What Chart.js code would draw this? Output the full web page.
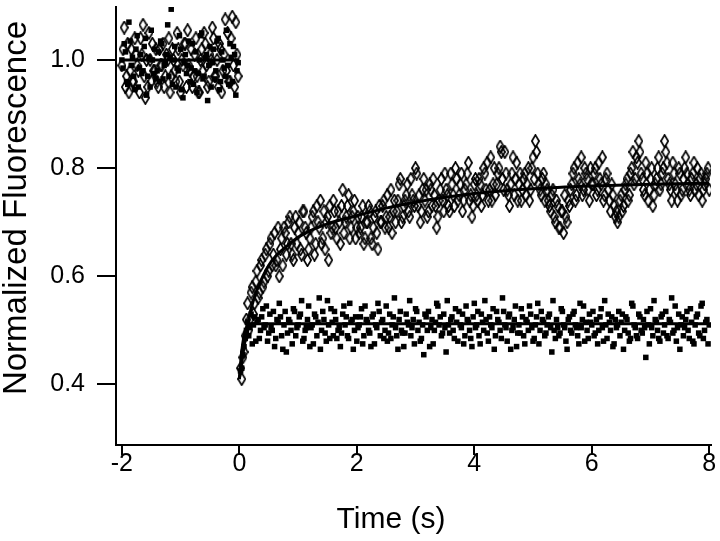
<!DOCTYPE html>
<html>
<head>
<meta charset="utf-8">
<script src="https://cdn.jsdelivr.net/npm/chart.js@4.4.1/dist/chart.umd.min.js"></script>
<style>
  html, body { margin: 0; padding: 0; background: #fff; }
</style>
</head>
<body>
<canvas id="fluoChart" width="720" height="541"></canvas>
<script>
// sampling of the traces (s); "Mid" arrays sit halfway between the main samples
const preStart = -2.0;
const postStart = 0.04;
const dt = 0.04;
const half = 0.02;

// before mixing, open diamonds
const preDiamond = [
  0.99, 1.06, 0.97, 0.94, 1.02, 0.96, 1.01, 0.98, 1.04, 1.065,
  0.93, 0.95, 1.00, 1.03, 0.98, 0.96, 1.02, 0.99, 0.95, 1.01,
  1.04, 0.97, 1.00, 0.96, 1.02, 0.94, 0.99, 1.03, 1.055, 0.98,
  0.95, 1.01, 0.97, 0.94, 1.02, 1.05, 0.99, 0.96, 1.00, 1.04,
  0.97, 0.95, 1.02, 0.98, 1.075, 1.05, 0.96, 1.08, 0.95, 1.01
];
const preDiamondMid = [
  1.02, 0.95, 1.03, 0.98, 0.96, 1.04, 0.99, 0.94, 1.01, 0.97,
  1.00, 1.05, 0.96, 0.98, 1.02, 0.95, 0.99, 1.03, 0.97, 1.00,
  0.94, 1.02, 0.98, 1.05, 0.96, 1.00, 1.03, 0.95, 0.99, 1.02,
  0.97, 1.04, 0.94, 1.00, 0.98, 1.03, 0.95, 1.01, 1.06, 0.97,
  1.00, 1.03, 0.94, 1.01, 0.98, 0.96, 1.04, 0.99, 1.07, 0.97
];
// before mixing, filled squares
const preSquare = [
  1.00, 1.03, 0.96, 1.07, 0.99, 0.97, 1.02, 0.95, 1.01, 0.98,
  1.04, 0.97, 0.95, 1.00, 1.02, 0.98, 0.96, 1.03, 0.99, 1.01,
  0.97, 1.094, 1.00, 0.95, 0.98, 1.02, 0.93, 1.01, 0.99, 0.96,
  1.03, 0.98, 0.94, 1.00, 1.05, 0.97, 1.01, 0.99, 0.95, 1.02,
  0.98, 1.04, 0.96, 1.00, 0.97, 0.99, 1.03, 0.96, 1.01, 0.98
];
const preSquareMid = [
  0.985, 1.015, 0.955, 1.035, 1.005, 0.945, 1.045, 0.985, 0.975, 1.025,
  0.935, 1.005, 1.055, 0.975, 0.965, 1.015, 1.035, 0.965, 0.995, 1.065,
  1.005, 0.955, 1.025, 0.985, 1.045, 0.945, 0.995, 0.975, 1.035, 0.985,
  0.955, 1.015, 0.975, 1.045, 0.965, 1.005, 0.925, 1.025, 0.995, 0.965,
  1.035, 0.945, 1.015, 0.985, 1.055, 0.955, 1.005, 1.025, 0.935, 0.995
];

// after mixing, open diamonds (0.04 .. 8.00 s)
const postDiamond = [
  0.41, 0.46, 0.52, 0.50, 0.57, 0.53, 0.59, 0.56, 0.62, 0.58,
  0.64, 0.60, 0.66, 0.62, 0.68, 0.63, 0.60, 0.67, 0.69, 0.64,
  0.70, 0.66, 0.63, 0.71, 0.68, 0.65, 0.72, 0.69, 0.63, 0.67,
  0.71, 0.64, 0.73, 0.69, 0.66, 0.72, 0.70, 0.63, 0.68, 0.74,
  0.69, 0.72, 0.66, 0.76, 0.70, 0.73, 0.67, 0.71, 0.74, 0.69,
  0.68, 0.71, 0.66, 0.70, 0.73, 0.67, 0.69, 0.72, 0.65, 0.70,
  0.73, 0.69, 0.75, 0.71, 0.68, 0.74, 0.72, 0.77, 0.70, 0.73,
  0.75, 0.72, 0.78, 0.74, 0.80, 0.73, 0.70, 0.76, 0.74, 0.71,
  0.77, 0.73, 0.75, 0.69, 0.74, 0.78, 0.72, 0.76, 0.73, 0.79,
  0.75, 0.80, 0.74, 0.77, 0.72, 0.76, 0.79, 0.74, 0.71, 0.77,
  0.75, 0.78, 0.73, 0.80, 0.76, 0.74, 0.82, 0.77, 0.75, 0.79,
  0.84, 0.78, 0.83, 0.76, 0.73, 0.79, 0.75, 0.81, 0.77, 0.74,
  0.78, 0.75, 0.80, 0.76, 0.82, 0.85, 0.79, 0.76, 0.78, 0.74,
  0.76, 0.73, 0.75, 0.71, 0.74, 0.69, 0.72, 0.68, 0.71, 0.74,
  0.76, 0.79, 0.74, 0.81, 0.77, 0.75, 0.80, 0.78, 0.74, 0.77,
  0.79, 0.75, 0.81, 0.77, 0.74, 0.78, 0.76, 0.72, 0.75, 0.71,
  0.70, 0.74, 0.72, 0.76, 0.78, 0.75, 0.80, 0.77, 0.82, 0.85,
  0.79, 0.76, 0.81, 0.74, 0.78, 0.73, 0.77, 0.80, 0.76, 0.79,
  0.85, 0.81, 0.77, 0.74, 0.79, 0.76, 0.80, 0.75, 0.78, 0.82,
  0.77, 0.75, 0.79, 0.76, 0.80, 0.78, 0.74, 0.77, 0.79, 0.76
];
// after mixing, open diamonds (0.02 .. 7.98 s)
const postDiamondMid = [
  0.43, 0.45, 0.49, 0.55, 0.52, 0.58, 0.55, 0.61, 0.57, 0.63,
  0.59, 0.65, 0.61, 0.67, 0.64, 0.62, 0.69, 0.65, 0.62, 0.68,
  0.66, 0.71, 0.64, 0.69, 0.66, 0.70, 0.64, 0.72, 0.68, 0.65,
  0.69, 0.72, 0.66, 0.70, 0.74, 0.67, 0.65, 0.71, 0.73, 0.69,
  0.72, 0.67, 0.70, 0.73, 0.68, 0.71, 0.75, 0.69, 0.72, 0.67,
  0.71, 0.69, 0.73, 0.67, 0.70, 0.72, 0.66, 0.71, 0.68, 0.73,
  0.70, 0.74, 0.71, 0.69, 0.76, 0.72, 0.70, 0.74, 0.78, 0.71,
  0.74, 0.77, 0.71, 0.75, 0.73, 0.79, 0.75, 0.72, 0.78, 0.76,
  0.72, 0.76, 0.78, 0.73, 0.71, 0.76, 0.74, 0.79, 0.75, 0.72,
  0.77, 0.73, 0.78, 0.75, 0.79, 0.74, 0.77, 0.81, 0.75, 0.73,
  0.78, 0.74, 0.77, 0.75, 0.79, 0.81, 0.76, 0.74, 0.80, 0.77,
  0.80, 0.83, 0.76, 0.79, 0.75, 0.77, 0.82, 0.78, 0.74, 0.79,
  0.76, 0.79, 0.77, 0.74, 0.80, 0.78, 0.83, 0.77, 0.75, 0.79,
  0.77, 0.74, 0.72, 0.76, 0.70, 0.73, 0.69, 0.72, 0.75, 0.70,
  0.73, 0.77, 0.80, 0.75, 0.78, 0.82, 0.76, 0.79, 0.76, 0.80,
  0.77, 0.80, 0.76, 0.78, 0.82, 0.75, 0.79, 0.74, 0.77, 0.73,
  0.72, 0.71, 0.75, 0.73, 0.77, 0.74, 0.79, 0.83, 0.78, 0.81,
  0.83, 0.78, 0.75, 0.79, 0.76, 0.80, 0.75, 0.78, 0.82, 0.77,
  0.80, 0.83, 0.78, 0.76, 0.81, 0.77, 0.74, 0.79, 0.76, 0.80,
  0.79, 0.76, 0.78, 0.81, 0.77, 0.75, 0.79, 0.76, 0.78, 0.80
];

// after mixing, filled squares (0.04 .. 8.00 s)
const postSquare = [
  0.43, 0.47, 0.50, 0.49, 0.53, 0.51, 0.48, 0.52, 0.50, 0.54,
  0.51, 0.48, 0.53, 0.50, 0.47, 0.52, 0.55, 0.49, 0.51, 0.46,
  0.52, 0.50, 0.54, 0.49, 0.51, 0.53, 0.48, 0.50, 0.52, 0.47,
  0.51, 0.53, 0.49, 0.56, 0.50, 0.52, 0.48, 0.51, 0.54, 0.49,
  0.52, 0.50, 0.47, 0.53, 0.51, 0.49, 0.55, 0.52, 0.50, 0.48,
  0.51, 0.54, 0.49, 0.52, 0.50, 0.47, 0.53, 0.51, 0.55, 0.49,
  0.52, 0.50, 0.48, 0.53, 0.51, 0.56, 0.49, 0.52, 0.50, 0.47,
  0.53, 0.51, 0.49, 0.52, 0.54, 0.50, 0.48, 0.51, 0.53, 0.50,
  0.47, 0.52, 0.50, 0.55, 0.51, 0.49, 0.53, 0.46, 0.51, 0.52,
  0.50, 0.54, 0.48, 0.51, 0.53, 0.49, 0.52, 0.50, 0.47, 0.55,
  0.51, 0.49, 0.53, 0.50, 0.52, 0.48, 0.51, 0.54, 0.49, 0.52,
  0.50, 0.56, 0.51, 0.48, 0.53, 0.50, 0.52, 0.47, 0.51, 0.54,
  0.49, 0.52, 0.50, 0.53, 0.48, 0.51, 0.55, 0.50, 0.52, 0.49,
  0.51, 0.53, 0.46, 0.50, 0.52, 0.49, 0.54, 0.51, 0.48, 0.52,
  0.50, 0.53, 0.51, 0.49, 0.55, 0.52, 0.48, 0.50, 0.53, 0.51,
  0.49, 0.52, 0.50, 0.54, 0.48, 0.51, 0.53, 0.50, 0.47, 0.52,
  0.51, 0.49, 0.53, 0.50, 0.52, 0.48, 0.55, 0.51, 0.49, 0.53,
  0.50, 0.52, 0.45, 0.51, 0.54, 0.49, 0.52, 0.50, 0.48, 0.53,
  0.51, 0.49, 0.52, 0.56, 0.50, 0.48, 0.53, 0.51, 0.49, 0.52,
  0.50, 0.54, 0.48, 0.51, 0.53, 0.49, 0.55, 0.50, 0.52, 0.51
];
// after mixing, filled squares (0.02 .. 7.98 s)
const postSquareMid = [
  0.425, 0.455, 0.485, 0.515, 0.505, 0.475, 0.525, 0.515, 0.485, 0.525,
  0.505, 0.545, 0.495, 0.505, 0.535, 0.485, 0.515, 0.525, 0.465, 0.535,
  0.495, 0.515, 0.475, 0.535, 0.505, 0.525, 0.555, 0.485, 0.505, 0.545,
  0.505, 0.475, 0.525, 0.515, 0.465, 0.535, 0.495, 0.555, 0.485, 0.515,
  0.535, 0.485, 0.505, 0.495, 0.545, 0.525, 0.485, 0.515, 0.465, 0.525,
  0.505, 0.525, 0.475, 0.545, 0.515, 0.495, 0.525, 0.475, 0.505, 0.535,
  0.515, 0.485, 0.545, 0.495, 0.485, 0.525, 0.505, 0.465, 0.535, 0.495,
  0.495, 0.515, 0.555, 0.505, 0.475, 0.535, 0.515, 0.485, 0.455, 0.525,
  0.535, 0.505, 0.475, 0.515, 0.545, 0.525, 0.495, 0.505, 0.555, 0.495,
  0.525, 0.485, 0.515, 0.535, 0.505, 0.475, 0.545, 0.515, 0.485, 0.525,
  0.505, 0.535, 0.475, 0.515, 0.555, 0.495, 0.525, 0.505, 0.465, 0.535,
  0.515, 0.485, 0.535, 0.505, 0.525, 0.465, 0.505, 0.545, 0.495, 0.495,
  0.525, 0.475, 0.515, 0.545, 0.505, 0.485, 0.525, 0.475, 0.535, 0.515,
  0.495, 0.525, 0.505, 0.555, 0.485, 0.505, 0.495, 0.535, 0.505, 0.465,
  0.525, 0.495, 0.535, 0.505, 0.475, 0.505, 0.545, 0.515, 0.485, 0.515,
  0.535, 0.495, 0.475, 0.525, 0.505, 0.555, 0.485, 0.515, 0.525, 0.475,
  0.505, 0.535, 0.515, 0.465, 0.525, 0.495, 0.485, 0.545, 0.505, 0.485,
  0.525, 0.495, 0.505, 0.535, 0.475, 0.505, 0.555, 0.515, 0.485, 0.525,
  0.495, 0.535, 0.485, 0.515, 0.495, 0.545, 0.505, 0.465, 0.525, 0.505,
  0.535, 0.485, 0.515, 0.475, 0.525, 0.495, 0.545, 0.485, 0.515, 0.475
];

// fitted curves
const fitTime = [0, 0.04, 0.08, 0.12, 0.16, 0.2, 0.3, 0.4, 0.5, 0.6, 0.8, 1.0, 1.2, 1.5, 2.0, 2.5, 3.0, 3.5, 4.0, 5.0, 6.0, 7.0, 8.0];
const fitDiamond = [0.41, 0.44, 0.47, 0.50, 0.52, 0.54, 0.575, 0.60, 0.62, 0.635, 0.655, 0.672, 0.684, 0.697, 0.712, 0.726, 0.737, 0.746, 0.753, 0.762, 0.767, 0.770, 0.772];
const fitSqTime = [0, 0.04, 0.08, 0.12, 0.2, 8.0];
const fitSquare = [0.41, 0.46, 0.49, 0.505, 0.512, 0.512];
const baseTime = [-2.0, 0];
const baseLevel = [1.0, 1.0];

const xTicks = [-2, 0, 2, 4, 6, 8];
const yTicks = [0.4, 0.6, 0.8, 1.0];
const xTitle = 'Time (s)';
const yTitle = 'Normalized Fluorescence';

const fontFam = '"Liberation Sans", Arial, Helvetica, sans-serif';

function toPoints(start, values) {
  return values.map((v, i) => ({ x: +(start + i * dt).toFixed(2), y: v }));
}
function pair(xs, ys) {
  return xs.map((x, i) => ({ x: x, y: ys[i] }));
}

// tall open diamond marker
const diamond = document.createElement('canvas');
diamond.width = 9;
diamond.height = 14;
const dctx = diamond.getContext('2d');
dctx.strokeStyle = '#000';
dctx.lineWidth = 1.7;
dctx.beginPath();
dctx.moveTo(4.5, 0.9);
dctx.lineTo(8.1, 7);
dctx.lineTo(4.5, 13.1);
dctx.lineTo(0.9, 7);
dctx.closePath();
dctx.stroke();

// axis titles sit a little off-centre in the original, so draw them here
const axisTitles = {
  id: 'axisTitles',
  afterDraw(chart) {
    const c = chart.ctx;
    c.save();
    c.fillStyle = '#000';
    c.textAlign = 'center';
    c.textBaseline = 'middle';
    c.font = '30px ' + fontFam;
    c.fillText(xTitle, 391, 520);
    c.translate(17, 208);
    c.rotate(-Math.PI / 2);
    c.font = '33px ' + fontFam;
    c.fillText(yTitle, 0, 0);
    c.restore();
  }
};

const lineStyle = {
  type: 'line',
  showLine: true,
  pointRadius: 0,
  borderColor: '#000',
  borderWidth: 3,
  fill: false,
  cubicInterpolationMode: 'monotone',
  order: 0
};

const squarePts = toPoints(preStart, preSquare)
  .concat(toPoints(preStart + half, preSquareMid))
  .concat(toPoints(postStart, postSquare))
  .concat(toPoints(postStart - half, postSquareMid));
const diamondPts = toPoints(preStart, preDiamond)
  .concat(toPoints(preStart + half, preDiamondMid))
  .concat(toPoints(postStart, postDiamond))
  .concat(toPoints(postStart - half, postDiamondMid));

const ctx = document.getElementById('fluoChart');
const chart = new Chart(ctx, {
  type: 'scatter',
  data: {
    datasets: [
      Object.assign({ label: 'fit diamonds', data: pair(fitTime, fitDiamond) }, lineStyle),
      Object.assign({ label: 'fit squares', data: pair(fitSqTime, fitSquare) }, lineStyle),
      Object.assign({ label: 'baseline', data: pair(baseTime, baseLevel) }, lineStyle),
      {
        label: 'squares',
        data: squarePts,
        pointStyle: 'rect',
        pointRadius: 3.9,
        backgroundColor: '#000',
        borderWidth: 0,
        order: 1
      },
      {
        label: 'diamonds',
        data: diamondPts,
        pointStyle: diamond,
        pointRadius: 6,
        order: 2
      }
    ]
  },
  plugins: [axisTitles],
  options: {
    responsive: false,
    animation: false,
    devicePixelRatio: 1,
    layout: { padding: { top: 3, right: 9, bottom: 0, left: 0 } },
    plugins: { legend: { display: false }, tooltip: { enabled: false } },
    scales: {
      x: {
        type: 'linear',
        min: -2.1,
        max: 8.03,
        afterBuildTicks: axis => { axis.ticks = xTicks.map(v => ({ value: v })); },
        afterFit: axis => { axis.height = 96; },
        ticks: {
          color: '#000',
          font: { family: fontFam, size: 25, lineHeight: 1.0 },
          padding: -3,
          maxRotation: 0,
          autoSkip: false,
          callback: v => String(v)
        },
        grid: { drawOnChartArea: false, drawTicks: true, tickLength: 10, color: '#000', lineWidth: 2 },
        border: { display: true, color: '#000', width: 2 },
        title: { display: false }
      },
      y: {
        type: 'linear',
        min: 0.288,
        max: 1.098,
        afterBuildTicks: axis => { axis.ticks = yTicks.map(v => ({ value: v })); },
        afterFit: axis => { axis.width = 116; axis.paddingTop = 0; axis.paddingBottom = 0; },
        ticks: {
          color: '#000',
          font: { family: fontFam, size: 25 },
          padding: 12,
          callback: v => v.toFixed(1)
        },
        grid: { drawOnChartArea: false, drawTicks: true, tickLength: 19, color: '#000', lineWidth: 2 },
        border: { display: true, color: '#000', width: 2 },
        title: { display: false }
      }
    }
  }
});
</script>
</body>
</html>
